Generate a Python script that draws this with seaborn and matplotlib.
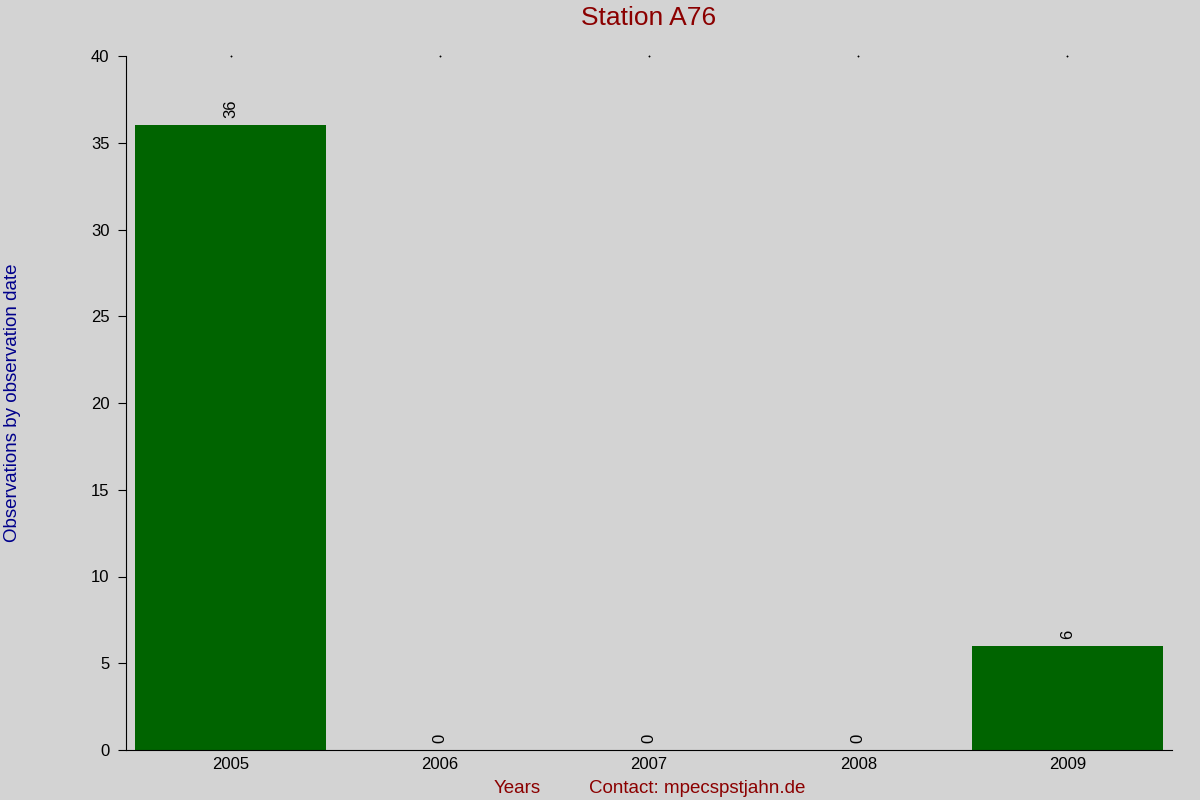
import matplotlib
matplotlib.use("Agg")
import matplotlib.pyplot as plt
import seaborn as sns
import pandas as pd

# ==========================================
# Data
# ==========================================
years = ["2005", "2006", "2007", "2008", "2009"]
observations = [36, 0, 0, 0, 6]

df = pd.DataFrame({"year": years, "count": observations})

# ==========================================
# Style
# ==========================================
sns.set_style("ticks")
plt.rcParams["font.family"] = ["Liberation Sans", "DejaVu Sans"]

fig = plt.figure(figsize=(12, 8), dpi=100, facecolor="#d3d3d3")
ax = fig.add_axes([0.105, 0.0625, 0.8717, 0.8675])
ax.set_facecolor("#d3d3d3")

sns.barplot(data=df, x="year", y="count", color="#006400", width=0.91,
            saturation=1, linewidth=0, ax=ax)

for p, v in zip(ax.patches, observations):
    ax.text(p.get_x() + p.get_width() / 2, v + 0.4, str(v),
            rotation=90, ha="center", va="bottom", fontsize=12, color="black")

ax.set_ylim(0, 40)
ax.set_xlim(-0.5, 4.5)
ax.set_yticks(range(0, 41, 5))
ax.tick_params(axis="y", length=6, width=0.8, labelsize=12, pad=6,
               direction="out", colors="black")
ax.tick_params(axis="x", length=0, labelsize=12, pad=5, colors="black")
for s in ["left", "bottom"]:
    ax.spines[s].set_color("black")
    ax.spines[s].set_linewidth(0.8)

ax.spines["top"].set_visible(False)
ax.spines["right"].set_visible(False)

# tiny marks along the top edge
ax.plot(range(len(years)), [40] * len(years), ls="none", marker="s",
        markersize=0.4, color="black", clip_on=False)

ax.set_title("Station A76", color="#8b0000", fontsize=19, pad=22)
ax.set_ylabel("Observations by observation date", color="#00008b",
              fontsize=13.5, labelpad=0)
ax.yaxis.set_label_coords(-0.1, 0.5)
ax.set_xlabel("")
fig.text(0.431, 0.009, "Years", color="#8b0000", fontsize=13.5, ha="center")
fig.text(0.581, 0.009, "Contact: mpecspstjahn.de", color="#8b0000",
         fontsize=13.5, ha="center")

fig.savefig("out.png", dpi=100, facecolor=fig.get_facecolor())
